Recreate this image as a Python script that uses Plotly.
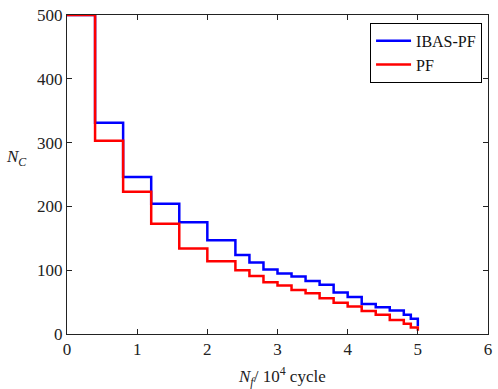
import plotly.graph_objects as go

x_edges = [0, 0.4, 0.8, 1.2, 1.6, 2.0, 2.4, 2.6, 2.8, 3.0, 3.2, 3.4, 3.6, 3.8,
           4.0, 4.2, 4.4, 4.6, 4.8, 4.9, 5.0]
ibas_pf = [500, 331, 246, 204, 175, 147, 124, 112, 101, 95, 90, 83, 77, 65,
           58, 47, 42, 37, 30, 24, 12]
pf = [500, 303, 223, 173, 134, 114, 100, 91, 81, 76, 69, 64, 56, 49,
      43, 36, 30, 22, 16, 10, 5]

x_ticks = [0, 1, 2, 3, 4, 5, 6]
y_ticks = [0, 100, 200, 300, 400, 500]

serif = "'Liberation Serif', 'Times New Roman', 'DejaVu Serif'"

W, H = 498, 389
ML, MR, MT, MB = 67, 6, 9, 55
PW, PH = W - ML - MR, H - MT - MB


def px(xp):
    return (xp - ML) / PW


def py(yp):
    return (H - MB - yp) / PH


fig = go.Figure()
fig.add_trace(go.Scatter(x=x_edges, y=ibas_pf, mode="lines", line_shape="hv",
                         name="IBAS-PF", line=dict(color="#0000ff", width=2.5)))
fig.add_trace(go.Scatter(x=x_edges, y=pf, mode="lines", line_shape="hv",
                         name="PF", line=dict(color="#ff0000", width=2.5)))

axis_common = dict(showgrid=False, zeroline=False, showline=True, mirror="ticks",
                   linecolor="#222", linewidth=1, ticks="inside", ticklen=5,
                   tickcolor="#222", ticklabeloverflow="allow",
                   tickfont=dict(family=serif, size=17, color="#222"))

fig.update_xaxes(range=[0, 6], tickvals=x_ticks, **axis_common)
fig.update_yaxes(range=[0, 500], tickvals=y_ticks, **axis_common)

fig.update_layout(
    width=W, height=H,
    margin=dict(l=ML, r=MR, t=MT, b=MB),
    plot_bgcolor="white", paper_bgcolor="white",
    font=dict(family=serif),
    showlegend=True,
    legend=dict(x=px(486), y=py(17), xanchor="right", yanchor="top",
                bgcolor="white", bordercolor="#000", borderwidth=1,
                font=dict(family=serif, size=16, color="#111"),
                tracegroupgap=0, itemwidth=35),
    annotations=[
        dict(text="<i>N</i><sub><i>C</i></sub>", x=px(3), y=py(155),
             xref="paper", yref="paper",
             showarrow=False, font=dict(family=serif, size=17, color="#222"),
             xanchor="left", yanchor="middle"),
        dict(text="<i>N<sub>f</sub></i>/ 10<sup>4</sup> cycle", x=px(284), y=py(377),
             xref="paper", yref="paper",
             showarrow=False, font=dict(family=serif, size=17, color="#222"),
             xanchor="center", yanchor="middle"),
    ],
)

fig.write_html("out.html", config={"displayModeBar": False},
               post_script="document.body.style.margin='0';")
